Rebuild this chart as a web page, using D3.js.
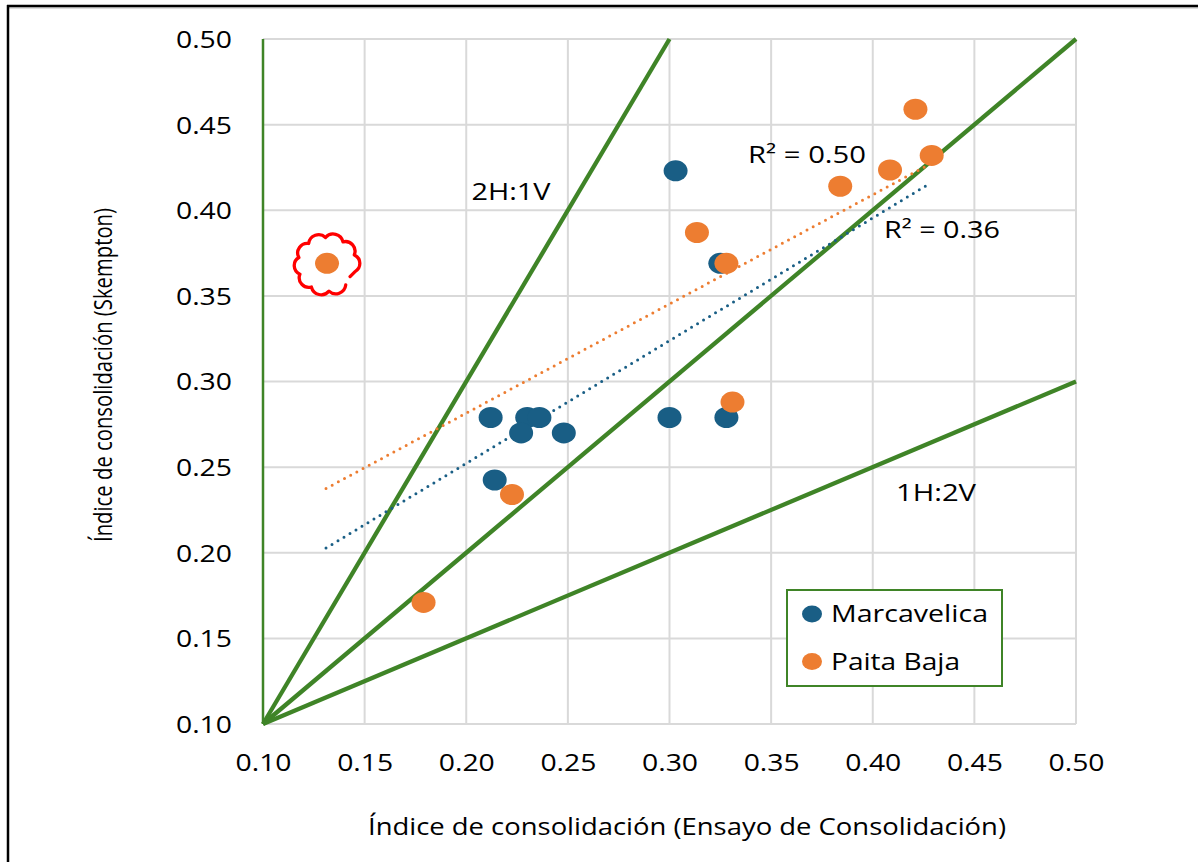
<!DOCTYPE html>
<html><head><meta charset="utf-8">
<script src="https://cdn.jsdelivr.net/npm/d3@7"></script>
<style>
html,body{margin:0;padding:0;background:#fff;}
svg{display:block;}
text{font-family:"Open Sans","Noto Sans",sans-serif;fill:#000;}
</style></head>
<body>
<svg id="c" width="1198" height="862"></svg>
<script>
// ---- data ----
const xTicks = [0.10,0.15,0.20,0.25,0.30,0.35,0.40,0.45,0.50];
const yTicks = [0.10,0.15,0.20,0.25,0.30,0.35,0.40,0.45,0.50];
const seriesNames = ["Marcavelica","Paita Baja"];
const marcavelicaX = [0.303,0.325,0.212,0.230,0.236,0.227,0.248,0.214,0.300,0.328];
const marcavelicaY = [0.423,0.369,0.279,0.279,0.279,0.270,0.270,0.2425,0.279,0.279];
const paitaX = [0.1315,0.179,0.2225,0.3135,0.328,0.331,0.384,0.4085,0.421,0.429];
const paitaY = [0.369,0.171,0.234,0.387,0.369,0.288,0.414,0.4235,0.459,0.432];
const trendSlope = [0.7165,0.6376];
const trendIntercept = [0.1089,0.154];
const trendRange = [0.131,0.426];
const r2Labels = ["R² = 0.36","R² = 0.50"];
const refSlopes = [2,1,0.5];
const refLabels = ["2H:1V","1H:2V"];
const xTitle = "Índice de consolidación (Ensayo de Consolidación)";
const yTitle = "Índice de consolidación (Skempton)";

// ---- styles ----
const colors = ["#195E85","#ED7D31"];
const green = "#3F8427";
const grid = "#D9D9D9";

const svg = d3.select("#c");
const x = d3.scaleLinear().domain([0.10,0.50]).range([263,1076]);
const y = d3.scaleLinear().domain([0.10,0.50]).range([724,39]);
const fmt = d3.format(".2f");

// frame (top and left border)
svg.append("line").attr("x1",8).attr("x2",1198).attr("y1",8).attr("y2",8).attr("stroke","#ddd").attr("stroke-width",2);
svg.append("line").attr("x1",7).attr("x2",1198).attr("y1",6).attr("y2",6).attr("stroke","#000").attr("stroke-width",2.5);
svg.append("line").attr("x1",8).attr("x2",8).attr("y1",5).attr("y2",862).attr("stroke","#000").attr("stroke-width",2.5);

// gridlines
svg.append("g").selectAll("line").data(xTicks.slice(1)).join("line")
  .attr("x1",d=>x(d)).attr("x2",d=>x(d)).attr("y1",y(0.5)).attr("y2",y(0.1))
  .attr("stroke",grid).attr("stroke-width",2);
svg.append("g").selectAll("line").data(yTicks).join("line")
  .attr("x1",x(0.1)).attr("x2",x(0.5)).attr("y1",d=>y(d)).attr("y2",d=>y(d))
  .attr("stroke",grid).attr("stroke-width",2);

// axes (labels only)
const xAxis = svg.append("g").attr("transform",`translate(0,${y(0.1)})`)
  .call(d3.axisBottom(x).tickValues(xTicks).tickFormat(fmt).tickSize(0).tickPadding(0));
xAxis.select(".domain").remove();
xAxis.selectAll("text").attr("font-size",23.5).attr("dy",0).attr("y",47)
  .attr("textLength",56).attr("lengthAdjust","spacingAndGlyphs")
  .style("font-family",'"Open Sans",sans-serif').attr("fill","#000");
const yAxis = svg.append("g").attr("transform",`translate(${x(0.1)},0)`)
  .call(d3.axisLeft(y).tickValues(yTicks).tickFormat(fmt).tickSize(0).tickPadding(0));
yAxis.select(".domain").remove();
yAxis.selectAll("text").attr("font-size",23.5).attr("x",-31).attr("dy","0.36em")
  .attr("textLength",56).attr("lengthAdjust","spacingAndGlyphs")
  .style("font-family",'"Open Sans",sans-serif').attr("fill","#000");

// left axis line green
svg.append("line").attr("x1",x(0.1)).attr("x2",x(0.1)).attr("y1",y(0.5)).attr("y2",y(0.1))
  .attr("stroke",green).attr("stroke-width",2.5);

// reference lines
svg.append("g").selectAll("line").data(refSlopes).join("line")
  .attr("x1",x(0.1)).attr("y1",y(0.1))
  .attr("x2",d=>x(Math.min(0.5,0.1+0.4/d)))
  .attr("y2",d=>y(0.1+d*(Math.min(0.5,0.1+0.4/d)-0.1)))
  .attr("stroke",green).attr("stroke-width",4.3);

// trendlines
trendSlope.forEach((s,i)=>{
  svg.append("line")
    .attr("x1",x(trendRange[0])).attr("y1",y(trendIntercept[i]+s*trendRange[0]))
    .attr("x2",x(trendRange[1])).attr("y2",y(trendIntercept[i]+s*trendRange[1]))
    .attr("stroke",colors[i]).attr("stroke-width",3).attr("stroke-linecap","round")
    .attr("stroke-dasharray","0 7");
});

// points
const sets = [[marcavelicaX,marcavelicaY],[paitaX,paitaY]];
sets.forEach((s,i)=>{
  svg.append("g").selectAll("ellipse").data(s[0].map((v,j)=>[v,s[1][j]])).join("ellipse")
    .attr("cx",d=>x(d[0])).attr("cy",d=>y(d[1])).attr("rx",12).attr("ry",10.5)
    .attr("fill",colors[i]);
});

// cloud annotation around outlier
(function(){
  const cx = x(paitaX[0]), cy = y(paitaY[0]) + 1;
  const n = 10, R = 28;
  const start = 50*Math.PI/180;
  const pts = [];
  for(let k=0;k<=n-1;k++){
    const a = start + k*(2*Math.PI - 0.6)/(n-1);
    pts.push([cx+R*Math.cos(a)*1.04, cy+R*Math.sin(a)*0.96]);
  }
  let p = `M${pts[0][0]},${pts[0][1]}`;
  for(let k=1;k<pts.length;k++){
    const dx=pts[k][0]-pts[k-1][0], dy=pts[k][1]-pts[k-1][1];
    const r = Math.hypot(dx,dy)*0.56;
    p += ` A${r},${r} 0 0 1 ${pts[k][0]},${pts[k][1]}`;
  }
  const last = pts[pts.length-1];
  p += ` L${last[0]-5},${last[1]+5}`;
  svg.append("path").attr("d",p).attr("fill","none").attr("stroke","#FF0000").attr("stroke-width",3.3)
    .attr("stroke-linejoin","round").attr("stroke-linecap","round");
})();

// labels
function lab(t,cx,cy,w){
  svg.append("text").attr("x",cx).attr("y",cy).attr("dy","0.36em").attr("text-anchor","middle")
    .attr("font-size",23.5).attr("textLength",w).attr("lengthAdjust","spacingAndGlyphs").text(t);
}
lab(refLabels[0],511,192,79);
lab(refLabels[1],936,493,80);
lab(r2Labels[1],807,155,118);
lab(r2Labels[0],942,230,116);

// legend
svg.append("rect").attr("x",787).attr("y",590).attr("width",215).attr("height",96)
  .attr("fill","#fff").attr("stroke",green).attr("stroke-width",2);
seriesNames.forEach((n,i)=>{
  const ly = 614 + i*47.5;
  svg.append("ellipse").attr("cx",812).attr("cy",ly).attr("rx",10).attr("ry",8.5).attr("fill",colors[i]);
  svg.append("text").attr("x",831).attr("y",ly).attr("dy","0.36em").attr("font-size",23.5)
    .attr("textLength",i===0?157:129).attr("lengthAdjust","spacingAndGlyphs").text(n);
});

// axis titles
svg.append("text").attr("x",687).attr("y",826).attr("dy","0.36em").attr("text-anchor","middle")
  .attr("font-size",24).attr("textLength",638).attr("lengthAdjust","spacingAndGlyphs").text(xTitle);
svg.append("text").attr("transform","translate(103,375) rotate(-90)").attr("dy","0.36em").attr("text-anchor","middle")
  .attr("font-size",25).attr("textLength",334).attr("lengthAdjust","spacingAndGlyphs").text(yTitle);
</script>
</body></html>
